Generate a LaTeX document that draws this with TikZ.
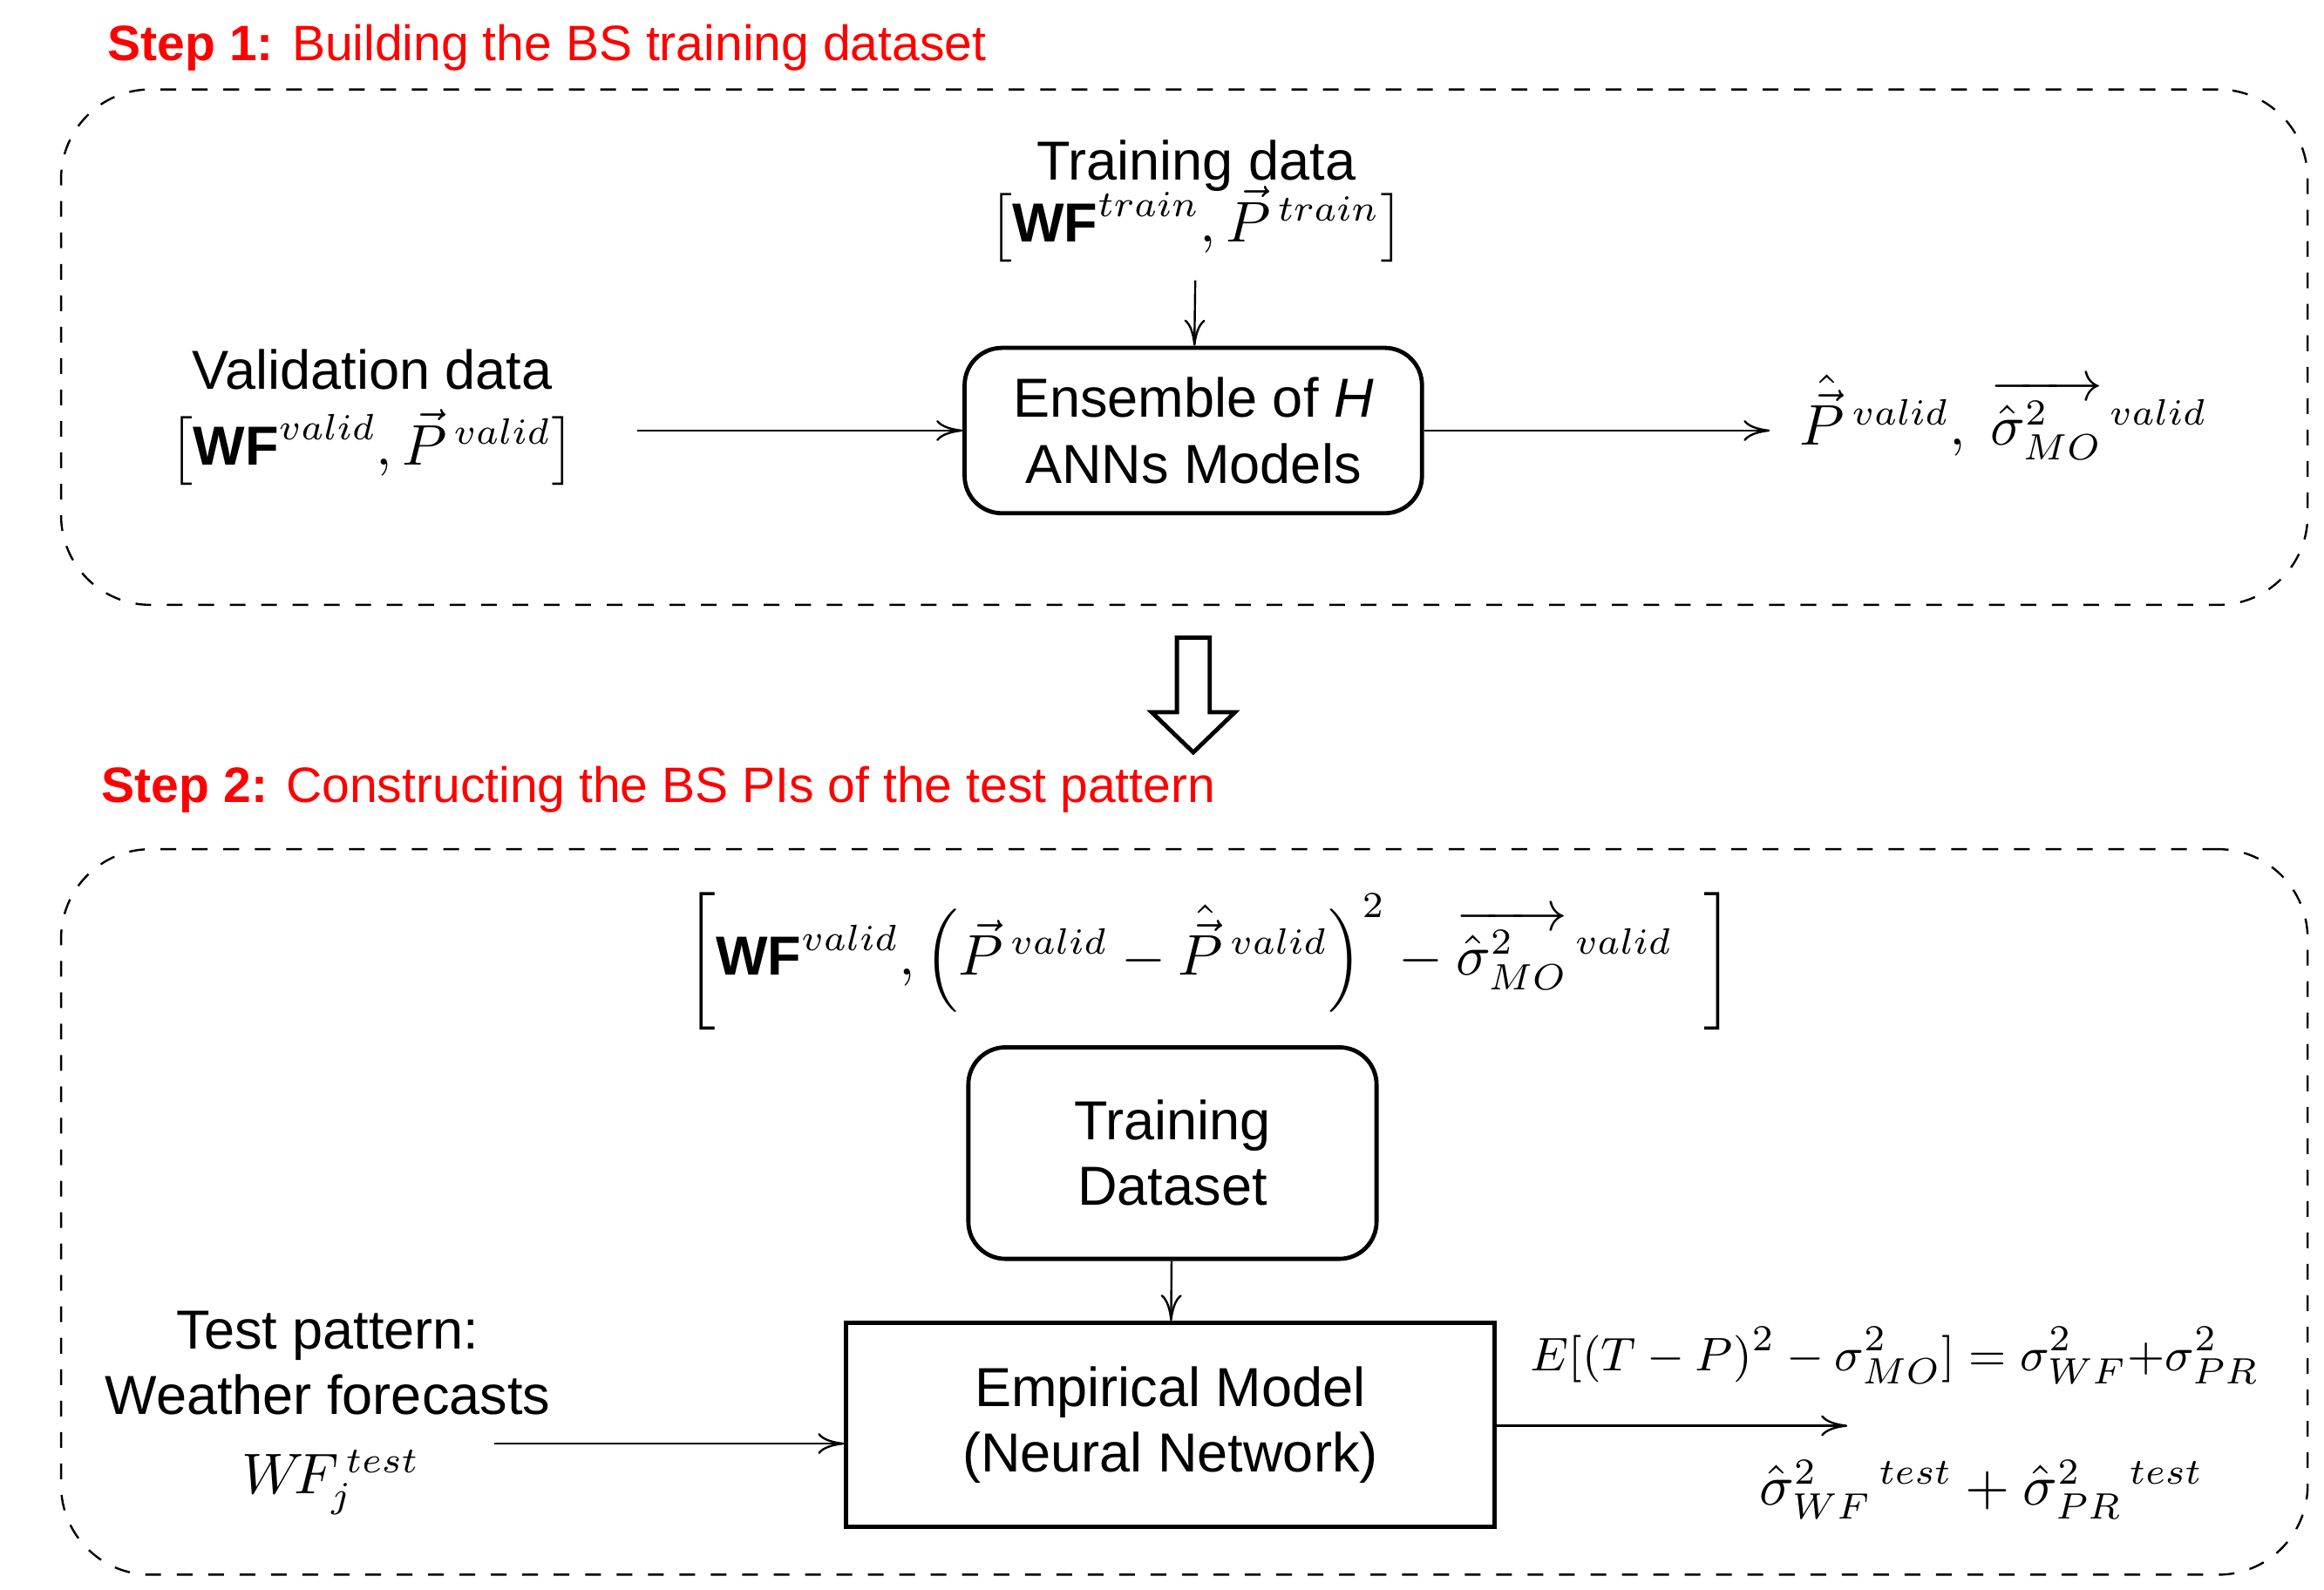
\documentclass[tikz,border=0pt]{standalone}
\usepackage{amsmath}
\usepackage{fontspec}
\setmainfont{Liberation Sans}
\usetikzlibrary{positioning, arrows.meta, shapes}
\newcommand{\vP}[1]{\vec{P}^{\,#1}}
\newcommand{\sMO}{\overrightarrow{\hat{\sigma}^2_{MO}}^{\,valid}}

\begin{document}
\begin{tikzpicture}[
    % GLOBAL CFG
    font=\fontsize{10.5}{12.5}\selectfont,
    >={To[length=5pt,width=4pt]},
    % Styles
    stage/.style={% For the two dashed stages
        rectangle,
        rounded corners=6mm,
        draw,
        dashed,
        thin,
    },
    model/.style={% For rounded model boxes
        rectangle,
        rounded corners=2.5mm,
        draw,
        thick,
        align=center,
    },
    empirical/.style={% For the empirical model box
        rectangle,
        draw,
        thick,
        align=center,
    },
    steptitle/.style={% For step titles
        anchor=west,
        text=red,
        font=\fontsize{9.5}{11}\selectfont,
    },
    flow/.style={% Plain connectors
        ->,
        thin,
    },
    every text node part/.style={
        align=center
    },
    ]

    \useasboundingbox (0,0) rectangle (15.6,-10.67);

    % Step 1
    \node[steptitle] (t1) at (0.6,-0.32) {\textbf{Step 1:} Building the BS training dataset};
    \node[stage, minimum width=15.08cm, minimum height=3.46cm] (s1) at (7.95,-2.33) {};

    \node (train) at (8.03,-1.35) {Training data\\[-2pt]$\boldsymbol{\bigl[}\mathbf{WF}^{train},\vP{train}\boldsymbol{\bigr]}$};
    \node[model, minimum width=3.07cm, minimum height=1.11cm] (ens) at (8.01,-2.89) {Ensemble of \textit{H}\\ANNs Models};
    \node (valid) at (2.5,-2.8) {Validation data\\[2pt]$\boldsymbol{\bigl[}\mathbf{WF}^{valid},\vP{valid}\boldsymbol{\bigr]}$};
    \node (out1) at (13.45,-2.8) {$\hat{\vec{P}}^{\,valid},\ \sMO$};
    \coordinate (vin) at (4.28,-2.89);
    \coordinate (vout) at (11.88,-2.89);

    \draw[flow] (train) -- (ens);
    \draw[flow] (vin) -- (ens);
    \draw[flow] (ens) -- (vout);

    % Transition arrow
    \draw[thick] (7.9,-4.28) -- (8.12,-4.28) -- (8.12,-4.78) -- (8.29,-4.78)
        -- (8.01,-5.05) -- (7.73,-4.78) -- (7.9,-4.78) -- cycle;

    % Step 2
    \node[steptitle] (t2) at (0.56,-5.3) {\textbf{Step 2:} Constructing the BS PIs of the test pattern};
    \node[stage, minimum width=15.08cm, minimum height=4.87cm] (s2) at (7.95,-8.135) {};

    \node (form) at (8.12,-6.45) {$\left[\mathbf{WF}^{valid},\left(\vP{valid}-\hat{\vec{P}}^{\,valid}\right)^{2}-\sMO\ \ \right]$};
    \node[model, minimum width=2.74cm, minimum height=1.42cm] (tds) at (7.87,-7.74) {Training\\Dataset};
    \node[empirical, minimum width=4.35cm, minimum height=1.37cm] (emp) at (7.855,-9.565) {Empirical Model\\(Neural Network)};
    \node (test) at (2.2,-9.15) {Test pattern:\\Weather forecasts};
    \node (wf) at (2.22,-9.95) {$W\!F_j^{\,test}$};
    \node[font=\fontsize{9.5}{11}\selectfont] (eq) at (12.72,-9.1) {$E[(T-P)^2-\sigma^2_{MO}]=\sigma^2_{WF}{+}\sigma^2_{PR}$};
    \node (out2) at (13.3,-10.0) {$\hat{\sigma}^2_{WF}{}^{\,test}+\hat{\sigma}^2_{PR}{}^{\,test}$};
    \coordinate (tin) at (3.32,-9.69);
    \coordinate (tout) at (12.4,-9.57);

    \draw[flow] (tds) -- (emp);
    \draw[flow] (tin) -- (tin -| emp.west);
    \draw[flow] (emp.east |- tout) -- (tout);

\end{tikzpicture}
\end{document}
